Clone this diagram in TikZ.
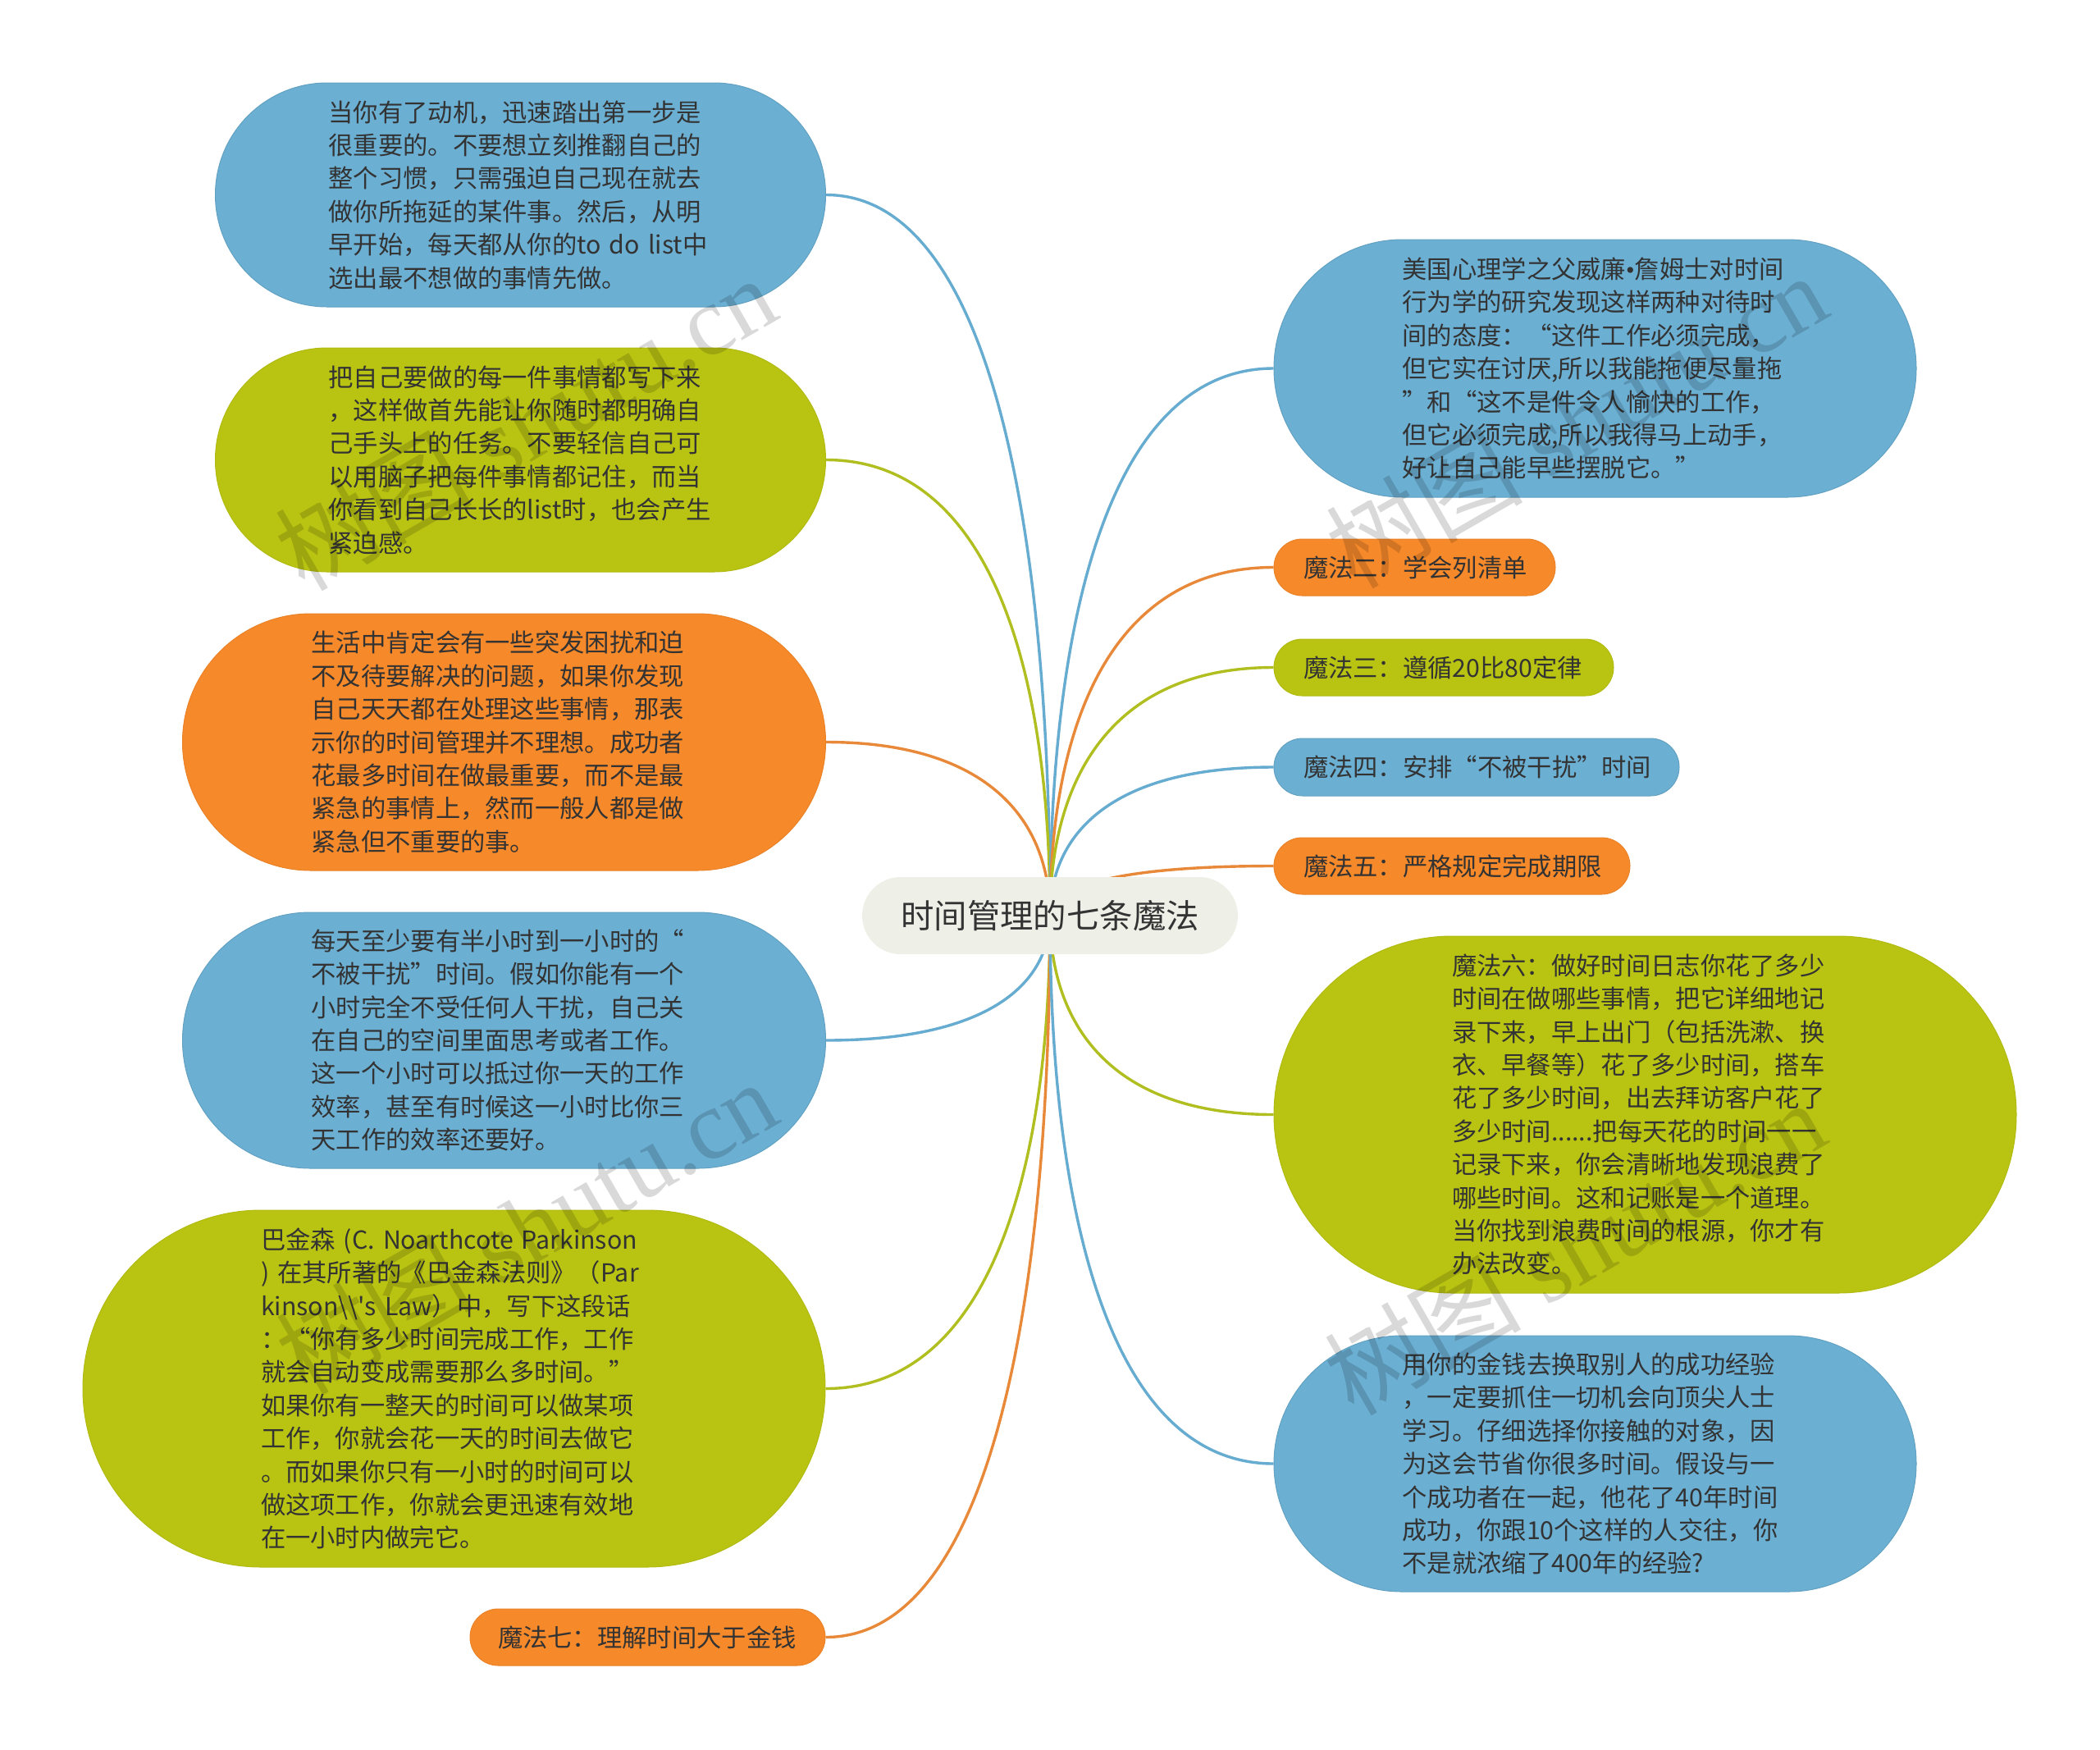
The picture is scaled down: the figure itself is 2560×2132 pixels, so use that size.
\documentclass[tikz,border=0pt]{standalone}
\usepackage{fontspec}
\setmainfont{Noto Sans CJK SC}
\newfontfamily\wmfont{Liberation Serif}
\newfontfamily\wmcjk{Noto Sans CJK SC}
\usetikzlibrary{backgrounds}
\definecolor{cblue}{HTML}{6BAFD3}
\definecolor{colive}{HTML}{B9C412}
\definecolor{corange}{HTML}{F6892A}
\definecolor{lblue}{HTML}{66ABD0}
\definecolor{lolive}{HTML}{B0BE20}
\definecolor{lorange}{HTML}{E8893A}
\definecolor{ccenter}{HTML}{EEEFE7}
\definecolor{ink}{HTML}{333333}
\tikzset{
  pill/.style={rectangle,inner xsep=0pt,inner ysep=0pt,align=left,text=ink,
    font=\fontsize{15.15}{20.2}\selectfont,line width=0.5pt},
  blue pill/.style={pill,fill=cblue,draw=cblue!92!black},
  olive pill/.style={pill,fill=colive,draw=colive!95!black},
  orange pill/.style={pill,fill=corange,draw=corange!95!black},
  conn/.style={line width=1.7pt},
  watermark/.style={rotate=30,text=black,text opacity=0.15,inner sep=0pt,
    font=\fontsize{60}{60}\selectfont}
}
\begin{document}
\begin{tikzpicture}[x=0.5pt,y=-0.5pt]
\useasboundingbox (0,0) rectangle (2560,2132);
\node[pill,fill=ccenter,minimum width=229pt,minimum height=47pt,rounded corners=23.5pt,align=center,font=\fontsize{20.2}{26}\selectfont] (c) at (1280,1116) {时间管理的七条魔法};

\node[blue pill,minimum width=372pt,minimum height=136.5pt,rounded corners=68.25pt,text width=234pt] (n1) at (634.5,237.5) {当你有了动机，迅速踏出第一步是\\很重要的。不要想立刻推翻自己的\\整个习惯，只需强迫自己现在就去\\做你所拖延的某件事。然后，从明\\早开始，每天都从你的to~do~list中\\选出最不想做的事情先做。};
\node[olive pill,minimum width=372pt,minimum height=136.5pt,rounded corners=68.25pt,text width=234pt] (n2) at (634.5,560.5) {把自己要做的每一件事情都写下来\\，这样做首先能让你随时都明确自\\己手头上的任务。不要轻信自己可\\以用脑子把每件事情都记住，而当\\你看到自己长长的list时，也会产生\\紧迫感。};
\node[orange pill,minimum width=392pt,minimum height=156.5pt,rounded corners=78.25pt,text width=235pt] (n3) at (614.5,904.5) {生活中肯定会有一些突发困扰和迫\\不及待要解决的问题，如果你发现\\自己天天都在处理这些事情，那表\\示你的时间管理并不理想。成功者\\花最多时间在做最重要，而不是最\\紧急的事情上，然而一般人都是做\\紧急但不重要的事。};
\node[blue pill,minimum width=392pt,minimum height=156pt,rounded corners=78pt,text width=235pt] (n4) at (614.5,1268) {每天至少要有半小时到一小时的“\\不被干扰”时间。假如你能有一个\\小时完全不受任何人干扰，自己关\\在自己的空间里面思考或者工作。\\这一个小时可以抵过你一天的工作\\效率，甚至有时候这一小时比你三\\天工作的效率还要好。};
\node[olive pill,minimum width=452.5pt,minimum height=217.5pt,rounded corners=108.75pt,text width=235.5pt] (n5) at (553.5,1692.5) {巴金森~(C.~Noarthcote~Parkinson\\)~在其所著的《巴金森法则》（Par\\kinson\textbackslash\textbackslash{\wmcjk'}s~Law）中，写下这段话\\：“你有多少时间完成工作，工作\\就会自动变成需要那么多时间。”\\如果你有一整天的时间可以做某项\\工作，你就会花一天的时间去做它\\。而如果你只有一小时的时间可以\\做这项工作，你就会更迅速有效地\\在一小时内做完它。};
\node[orange pill,minimum width=216.5pt,minimum height=34.5pt,rounded corners=17.25pt,text width=182.5pt] (n6) at (789.5,1995.5) {魔法七：理解时间大于金钱};

\node[blue pill,minimum width=391.5pt,minimum height=157pt,rounded corners=78.5pt,text width=235pt] (r1) at (1944.5,449) {美国心理学之父威廉{\wmfont•}詹姆士对时间\\行为学的研究发现这样两种对待时\\间的态度：“这件工作必须完成，\\但它实在讨厌,所以我能拖便尽量拖\\”和“这不是件令人愉快的工作，\\但它必须完成,所以我得马上动手，\\好让自己能早些摆脱它。”};
\node[orange pill,minimum width=171.5pt,minimum height=34.5pt,rounded corners=17.25pt,text width=135.5pt] (r2) at (1724.5,691.5) {魔法二：学会列清单};
\node[olive pill,minimum width=207pt,minimum height=34.5pt,rounded corners=17.25pt,text width=171pt] (r3) at (1760,813.5) {魔法三：遵循20比80定律};
\node[blue pill,minimum width=247pt,minimum height=35pt,rounded corners=17.5pt,text width=211pt] (r4) at (1800,935) {魔法四：安排“不被干扰”时间};
\node[orange pill,minimum width=217pt,minimum height=34.5pt,rounded corners=17.25pt,text width=181pt] (r5) at (1770,1055.5) {魔法五：严格规定完成期限};
\node[olive pill,minimum width=452.5pt,minimum height=217.5pt,rounded corners=108.75pt,text width=235.5pt] (r6) at (2005.5,1358.5) {魔法六：做好时间日志你花了多少\\时间在做哪些事情，把它详细地记\\录下来，早上出门（包括洗漱、换\\衣、早餐等）花了多少时间，搭车\\花了多少时间，出去拜访客户花了\\多少时间......把每天花的时间一一\\记录下来，你会清晰地发现浪费了\\哪些时间。这和记账是一个道理。\\当你找到浪费时间的根源，你才有\\办法改变。};
\node[blue pill,minimum width=391.5pt,minimum height=156pt,rounded corners=78pt,text width=235pt] (r7) at (1944.5,1784) {用你的金钱去换取别人的成功经验\\，一定要抓住一切机会向顶尖人士\\学习。仔细选择你接触的对象，因\\为这会节省你很多时间。假设与一\\个成功者在一起，他花了40年时间\\成功，你跟10个这样的人交往，你\\不是就浓缩了400年的经验?};

\begin{scope}[on background layer]
\draw[conn,lblue] (n1.east) .. controls +(200,0) and +(0,-474) .. (c.center);
\draw[conn,lolive] (n2.east) .. controls +(200,0) and +(0,-300) .. (c.center);
\draw[conn,lorange] (n3.east) .. controls +(200,0) and +(0,-114) .. (c.center);
\draw[conn,lblue] (n4.east) .. controls +(200,0) and +(0,82) .. (c.center);
\draw[conn,lolive] (n5.east) .. controls +(200,0) and +(0,311) .. (c.center);
\draw[conn,lorange] (n6.east) .. controls +(200,0) and +(0,475) .. (c.center);
\draw[conn,lblue] (r1.west) .. controls +(-200,0) and +(0,-360) .. (c.center);
\draw[conn,lorange] (r2.west) .. controls +(-200,0) and +(0,-229) .. (c.center);
\draw[conn,lolive] (r3.west) .. controls +(-200,0) and +(0,-163) .. (c.center);
\draw[conn,lblue] (r4.west) .. controls +(-200,0) and +(0,-98) .. (c.center);
\draw[conn,lorange] (r5.west) .. controls +(-200,0) and +(0,-33) .. (c.center);
\draw[conn,lolive] (r6.west) .. controls +(-200,0) and +(0,131) .. (c.center);
\draw[conn,lblue] (r7.west) .. controls +(-200,0) and +(0,361) .. (c.center);
\end{scope}

\node[watermark] (w1) at (640,515) {\wmcjk 树图\wmfont\ shutu.cn};
\node[watermark] (w2) at (1921,512) {\wmcjk 树图\wmfont\ shutu.cn};
\node[watermark] (w3) at (641,1495) {\wmcjk 树图\wmfont\ shutu.cn};
\node[watermark] (w4) at (1919,1520) {\wmcjk 树图\wmfont\ shutu.cn};
\end{tikzpicture}
\end{document}
